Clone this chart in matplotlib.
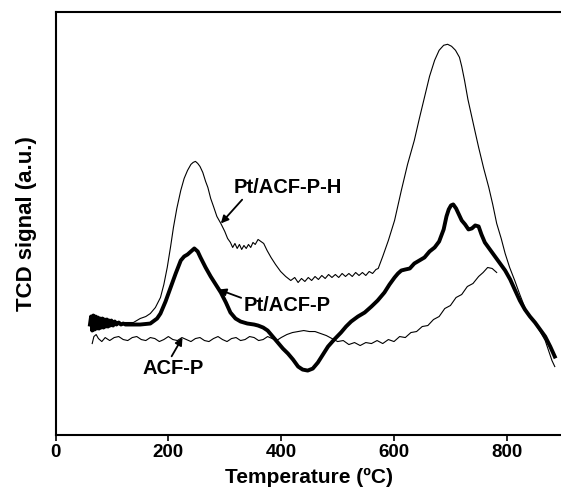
import matplotlib
matplotlib.use("Agg")
import matplotlib.pyplot as plt

plt.rcParams['font.family'] = ['Liberation Sans', 'DejaVu Sans']

# Pt/ACF-P-H (thin upper curve)
T_PH = [61, 63, 66, 69, 72, 75, 78, 81, 84, 87, 90, 94, 98, 102, 106, 110, 116, 122, 130, 138, 150, 160, 168, 177, 186, 192,
        198, 204, 209, 215, 222, 228, 234, 240, 244, 248, 252, 256, 261, 266, 270, 275, 280, 286, 293, 300,
        305, 310, 314, 318, 322, 326, 330, 334, 338, 342, 346, 350, 354, 359, 364, 369, 375, 382, 390, 399,
        408, 417, 424, 430, 436, 442, 448, 454, 460, 466, 472, 478, 484, 490, 496, 502, 508, 514, 520, 526,
        532, 538, 544, 550, 556, 562, 568, 572, 580, 590, 601, 613, 624, 636, 645, 654, 663, 672, 680, 688,
        695, 702, 709, 716, 720, 725, 731, 738, 744, 750, 759, 768, 775, 782, 790, 797, 805, 814, 823, 832,
        841, 850, 859, 868, 874, 880, 885]
S_PH = [112, 119, 106, 118, 107, 117, 108, 116, 108, 115, 109, 115, 109, 114, 110, 113, 111, 112, 112, 112, 116, 118, 121, 127, 137, 150,
        167, 188, 207, 226, 244, 256, 264, 270, 272, 273, 271, 268, 262, 253, 247, 236, 228, 218, 211, 203,
        196, 192, 187, 191, 186, 190, 185, 189, 186, 190, 187, 192, 190, 195, 193, 191, 184, 177, 170, 163,
        158, 154, 157, 152, 156, 153, 157, 154, 158, 155, 159, 156, 160, 157, 160, 157, 161, 158, 161, 158,
        162, 159, 162, 159, 163, 161, 165, 166, 178, 194, 214, 244, 270, 294, 316, 337, 358, 374, 384, 389,
        390, 388, 384, 377, 368, 354, 335, 317, 302, 287, 266, 247, 230, 211, 196, 181, 167, 154, 140, 127,
        118, 111, 103, 94, 84, 74, 68]

# Pt/ACF-P (thick curve)
T_P = [61, 63, 65, 67, 69, 71, 73, 75, 77, 79, 81, 83, 85, 87, 89, 91, 93, 95, 97, 99, 102, 105, 108, 112, 116,
       120, 124, 130, 138, 150, 168, 180, 186, 195, 204, 213, 222,
       228, 234, 240, 246, 252, 257, 266, 275, 284, 293, 302, 310, 319, 328, 340, 352, 359, 368, 376, 385,
       394, 403, 412, 421, 430, 438, 447, 456, 465, 474, 483, 494, 506, 515, 524, 536, 548, 560, 571, 583,
       592, 601, 607, 613, 620, 628, 636, 645, 654, 663, 672, 680, 688, 693, 697, 701, 705, 710, 715, 720,
       726, 732, 738, 744, 750, 755, 761, 770, 779, 788, 797, 806, 814, 823, 832, 841, 850, 859, 868, 877,
       885]
S_P = [110, 118, 104, 119, 105, 118, 106, 117, 106, 116, 107, 116, 107, 115, 108, 115, 108, 114, 109, 114, 109, 113, 110, 112, 110,
       111, 110, 110, 110, 110, 111, 116, 121, 133, 147, 161, 174,
       178, 180, 183, 186, 183, 177, 167, 158, 150, 142, 132, 122, 116, 113, 111, 110, 109, 107, 104, 98,
       92, 86, 81, 75, 68, 65, 64, 66, 72, 80, 88, 95, 102, 108, 113, 118, 122, 128, 134, 142,
       150, 157, 161, 164, 165, 166, 171, 174, 177, 183, 187, 193, 205, 218, 225, 229, 230, 226, 220, 214,
       210, 205, 206, 209, 208, 200, 192, 185, 178, 171, 164, 155, 145, 134, 125, 118, 112, 105, 98, 88,
       78]

# ACF-P (thin lower curve)
T_A = [65, 68, 72, 76, 82, 88, 96, 104, 112, 120, 128, 136, 144, 152, 160, 168, 176, 184, 192, 200, 208,
       216, 224, 232, 240, 248, 256, 264, 272, 280, 288, 296, 304, 312, 320, 328, 336, 344, 352, 360, 368,
       376, 384, 392, 400, 410, 420, 430, 440, 450, 460, 470, 480, 490, 500, 510, 520, 530, 540, 550, 560,
       570, 580, 590, 600, 610, 620, 630, 640, 650, 660, 670, 680, 690, 700, 710, 720, 730, 740, 750, 758,
       766, 774, 782]
S_A = [91, 98, 100, 96, 93, 97, 94, 97, 98, 95, 94, 97, 98, 95, 94, 97, 96, 93, 95, 98, 95,
       94, 97, 95, 93, 96, 97, 94, 93, 96, 98, 95, 93, 96, 97, 94, 95, 98, 97, 94, 95,
       98, 96, 94, 97, 100, 102, 103, 104, 103, 103, 101, 99, 96, 93, 94, 90, 92, 89, 92, 91,
       94, 91, 95, 93, 98, 97, 102, 103, 108, 109, 115, 118, 126, 129, 137, 140, 148, 151, 158, 162,
       167, 166, 162]

xticks = [0, 200, 400, 600, 800]

fig = plt.figure(figsize=(5.61, 4.90), dpi=100)
ax = fig.add_axes([0.099, 0.113, 0.905, 0.862])

ax.plot(T_PH, S_PH, color='black', lw=0.8)
ax.plot(T_P, S_P, color='black', lw=2.8, solid_joinstyle='round')
ax.plot(T_A, S_A, color='black', lw=0.8)

ax.set_xlim(0, 900)
ax.set_ylim(0, 422)
ax.set_xticks(xticks)
ax.set_xticklabels([str(v) for v in xticks], fontsize=13.5, fontweight='bold')
ax.set_yticks([])
ax.tick_params(axis='x', direction='out', length=4, width=1.2, pad=3)
for side in ['left', 'top', 'bottom']:
    ax.spines[side].set_linewidth(1.5)
ax.spines['right'].set_visible(False)

ax.set_xlabel('Temperature (ºC)', fontsize=15, fontweight='bold', labelpad=5)
ax.set_ylabel('TCD signal (a.u.)', fontsize=16, fontweight='bold', labelpad=13)

arrow = dict(arrowstyle='-|>', color='black', lw=1.3, mutation_scale=11)
ax.annotate('Pt/ACF-P-H', xy=(293, 211), xytext=(316, 247), fontsize=14.5, fontweight='bold',
            va='center', ha='left', arrowprops=dict(arrow, shrinkA=0, shrinkB=0, relpos=(0.1, 0.0)))
ax.annotate('Pt/ACF-P', xy=(289, 145), xytext=(334, 129), fontsize=14.5, fontweight='bold',
            va='center', ha='left', arrowprops=dict(arrow, shrinkA=0, shrinkB=0, relpos=(0.0, 0.85)))
ax.annotate('ACF-P', xy=(225, 97), xytext=(154, 66), fontsize=14.5, fontweight='bold',
            va='center', ha='left', arrowprops=dict(arrow, shrinkA=0, shrinkB=0, relpos=(0.45, 1.0)))

fig.savefig('out.png', dpi=100)
